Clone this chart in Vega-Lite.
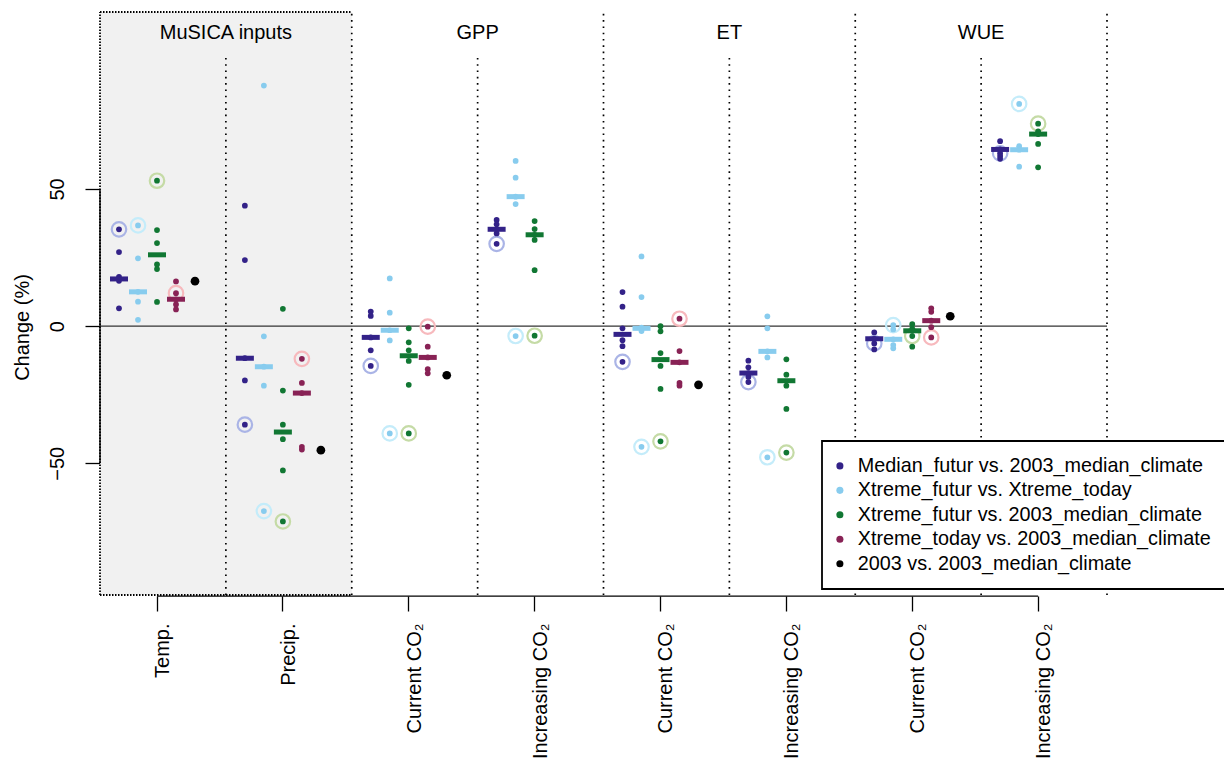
{
  "$schema": "https://vega.github.io/schema/vega-lite/v6.json",
  "width": 1007,
  "height": 583,
  "autosize": {"type": "none"},
  "padding": {"left": 100, "top": 12, "right": 117, "bottom": 170},
  "background": "white",
  "config": {
    "font": "Liberation Sans",
    "view": {"stroke": null},
    "legend": {"strokeWidth": 1.8},
    "axis": {"grid": false, "labelColor": "black", "titleColor": "black", "labelFont": "Liberation Sans", "titleFont": "Liberation Sans", "titleFontWeight": "normal"}
  },
  "datasets": {
    "pts": [
      {"c":"T","s":"A","v":35.3,"h":1},{"c":"T","s":"A","v":27.0,"h":0},{"c":"T","s":"A","v":18.0,"h":0},{"c":"T","s":"A","v":16.5,"h":0},{"c":"T","s":"A","v":6.5,"h":0},
      {"c":"T","s":"B","v":36.7,"h":1},{"c":"T","s":"B","v":24.7,"h":0},{"c":"T","s":"B","v":12.5,"h":0},{"c":"T","s":"B","v":8.9,"h":0},{"c":"T","s":"B","v":2.3,"h":0},
      {"c":"T","s":"C","v":53.0,"h":1},{"c":"T","s":"C","v":35.0,"h":0},{"c":"T","s":"C","v":30.3,"h":0},{"c":"T","s":"C","v":22.5,"h":0},{"c":"T","s":"C","v":20.8,"h":0},{"c":"T","s":"C","v":8.8,"h":0},
      {"c":"T","s":"D","v":16.3,"h":0},{"c":"T","s":"D","v":12.0,"h":1},{"c":"T","s":"D","v":9.8,"h":0},{"c":"T","s":"D","v":7.9,"h":0},{"c":"T","s":"D","v":6.1,"h":0},
      {"c":"T","s":"E","v":16.4,"h":0},
      {"c":"P","s":"A","v":43.9,"h":0},{"c":"P","s":"A","v":24.1,"h":0},{"c":"P","s":"A","v":-11.7,"h":0},{"c":"P","s":"A","v":-19.8,"h":0},{"c":"P","s":"A","v":-35.9,"h":1},
      {"c":"P","s":"B","v":87.7,"h":0},{"c":"P","s":"B","v":-3.7,"h":0},{"c":"P","s":"B","v":-14.8,"h":0},{"c":"P","s":"B","v":-21.7,"h":0},{"c":"P","s":"B","v":-67.4,"h":1},
      {"c":"P","s":"C","v":6.3,"h":0},{"c":"P","s":"C","v":-23.5,"h":0},{"c":"P","s":"C","v":-35.9,"h":0},{"c":"P","s":"C","v":-41.2,"h":0},{"c":"P","s":"C","v":-52.6,"h":0},{"c":"P","s":"C","v":-71.2,"h":1},
      {"c":"P","s":"D","v":-11.9,"h":1},{"c":"P","s":"D","v":-20.7,"h":0},{"c":"P","s":"D","v":-24.4,"h":0},{"c":"P","s":"D","v":-44.0,"h":0},{"c":"P","s":"D","v":-45.0,"h":0},
      {"c":"P","s":"E","v":-45.2,"h":0},
      {"c":"Gc","s":"A","v":5.3,"h":0},{"c":"Gc","s":"A","v":3.7,"h":0},{"c":"Gc","s":"A","v":-4.1,"h":0},{"c":"Gc","s":"A","v":-8.8,"h":0},{"c":"Gc","s":"A","v":-14.5,"h":1},
      {"c":"Gc","s":"B","v":17.4,"h":0},{"c":"Gc","s":"B","v":4.9,"h":0},{"c":"Gc","s":"B","v":-1.5,"h":0},{"c":"Gc","s":"B","v":-5.2,"h":0},{"c":"Gc","s":"B","v":-39.1,"h":1},
      {"c":"Gc","s":"C","v":-0.8,"h":0},{"c":"Gc","s":"C","v":-5.9,"h":0},{"c":"Gc","s":"C","v":-8.8,"h":0},{"c":"Gc","s":"C","v":-12.7,"h":0},{"c":"Gc","s":"C","v":-21.4,"h":0},{"c":"Gc","s":"C","v":-39.1,"h":1},
      {"c":"Gc","s":"D","v":-0.2,"h":1},{"c":"Gc","s":"D","v":-7.5,"h":0},{"c":"Gc","s":"D","v":-11.4,"h":0},{"c":"Gc","s":"D","v":-15.7,"h":0},{"c":"Gc","s":"D","v":-17.2,"h":0},
      {"c":"Gc","s":"E","v":-17.9,"h":0},
      {"c":"Gi","s":"A","v":38.7,"h":0},{"c":"Gi","s":"A","v":37.1,"h":0},{"c":"Gi","s":"A","v":35.3,"h":0},{"c":"Gi","s":"A","v":33.8,"h":0},{"c":"Gi","s":"A","v":30.0,"h":1},
      {"c":"Gi","s":"B","v":60.2,"h":0},{"c":"Gi","s":"B","v":54.1,"h":0},{"c":"Gi","s":"B","v":47.2,"h":0},{"c":"Gi","s":"B","v":44.5,"h":0},{"c":"Gi","s":"B","v":-3.6,"h":1},
      {"c":"Gi","s":"C","v":38.3,"h":0},{"c":"Gi","s":"C","v":35.4,"h":0},{"c":"Gi","s":"C","v":33.3,"h":0},{"c":"Gi","s":"C","v":31.4,"h":0},{"c":"Gi","s":"C","v":20.4,"h":0},{"c":"Gi","s":"C","v":-3.5,"h":1},
      {"c":"Ec","s":"A","v":12.4,"h":0},{"c":"Ec","s":"A","v":7.1,"h":0},{"c":"Ec","s":"A","v":-0.8,"h":0},{"c":"Ec","s":"A","v":-5.1,"h":0},{"c":"Ec","s":"A","v":-7.3,"h":0},{"c":"Ec","s":"A","v":-13.0,"h":1},
      {"c":"Ec","s":"B","v":25.4,"h":0},{"c":"Ec","s":"B","v":10.6,"h":0},{"c":"Ec","s":"B","v":-0.5,"h":0},{"c":"Ec","s":"B","v":-1.8,"h":0},{"c":"Ec","s":"B","v":-44.0,"h":1},
      {"c":"Ec","s":"C","v":0.0,"h":0},{"c":"Ec","s":"C","v":-1.9,"h":0},{"c":"Ec","s":"C","v":-9.8,"h":0},{"c":"Ec","s":"C","v":-14.5,"h":0},{"c":"Ec","s":"C","v":-22.9,"h":0},{"c":"Ec","s":"C","v":-42.0,"h":1},
      {"c":"Ec","s":"D","v":2.7,"h":1},{"c":"Ec","s":"D","v":-9.1,"h":0},{"c":"Ec","s":"D","v":-13.2,"h":0},{"c":"Ec","s":"D","v":-20.7,"h":0},{"c":"Ec","s":"D","v":-21.7,"h":0},
      {"c":"Ec","s":"E","v":-21.4,"h":0},
      {"c":"Ei","s":"A","v":-12.6,"h":0},{"c":"Ei","s":"A","v":-15.0,"h":0},{"c":"Ei","s":"A","v":-17.1,"h":0},{"c":"Ei","s":"A","v":-18.5,"h":0},{"c":"Ei","s":"A","v":-20.4,"h":1},
      {"c":"Ei","s":"B","v":3.6,"h":0},{"c":"Ei","s":"B","v":-0.8,"h":0},{"c":"Ei","s":"B","v":-9.2,"h":0},{"c":"Ei","s":"B","v":-11.4,"h":0},{"c":"Ei","s":"B","v":-47.8,"h":1},
      {"c":"Ei","s":"C","v":-12.1,"h":0},{"c":"Ei","s":"C","v":-17.7,"h":0},{"c":"Ei","s":"C","v":-21.7,"h":0},{"c":"Ei","s":"C","v":-30.2,"h":0},{"c":"Ei","s":"C","v":-46.1,"h":1},
      {"c":"Wc","s":"A","v":-2.3,"h":0},{"c":"Wc","s":"A","v":-4.6,"h":0},{"c":"Wc","s":"A","v":-6.3,"h":1},{"c":"Wc","s":"A","v":-8.5,"h":0},
      {"c":"Wc","s":"B","v":0.4,"h":1},{"c":"Wc","s":"B","v":-1.2,"h":0},{"c":"Wc","s":"B","v":-4.8,"h":0},{"c":"Wc","s":"B","v":-6.9,"h":0},{"c":"Wc","s":"B","v":-8.1,"h":0},
      {"c":"Wc","s":"C","v":0.7,"h":0},{"c":"Wc","s":"C","v":-1.0,"h":0},{"c":"Wc","s":"C","v":-1.7,"h":0},{"c":"Wc","s":"C","v":-3.6,"h":1},{"c":"Wc","s":"C","v":-7.5,"h":0},
      {"c":"Wc","s":"D","v":6.5,"h":0},{"c":"Wc","s":"D","v":5.2,"h":0},{"c":"Wc","s":"D","v":2.0,"h":0},{"c":"Wc","s":"D","v":-0.4,"h":0},{"c":"Wc","s":"D","v":-4.1,"h":1},
      {"c":"Wc","s":"E","v":3.6,"h":0},
      {"c":"Wi","s":"A","v":67.4,"h":0},{"c":"Wi","s":"A","v":64.4,"h":0},{"c":"Wi","s":"A","v":63.0,"h":1},{"c":"Wi","s":"A","v":62.0,"h":0},{"c":"Wi","s":"A","v":61.0,"h":0},
      {"c":"Wi","s":"B","v":81.0,"h":1},{"c":"Wi","s":"B","v":65.6,"h":0},{"c":"Wi","s":"B","v":64.3,"h":0},{"c":"Wi","s":"B","v":58.1,"h":0},
      {"c":"Wi","s":"C","v":73.8,"h":1},{"c":"Wi","s":"C","v":71.0,"h":0},{"c":"Wi","s":"C","v":70.0,"h":0},{"c":"Wi","s":"C","v":66.4,"h":0},{"c":"Wi","s":"C","v":57.9,"h":0}
    ],
    "med": [
      {"c":"T","s":"A","v":17.2},{"c":"T","s":"B","v":12.5},{"c":"T","s":"C","v":26.0},{"c":"T","s":"D","v":9.8},
      {"c":"P","s":"A","v":-11.7},{"c":"P","s":"B","v":-14.8},{"c":"P","s":"C","v":-38.6},{"c":"P","s":"D","v":-24.4},
      {"c":"Gc","s":"A","v":-4.1},{"c":"Gc","s":"B","v":-1.5},{"c":"Gc","s":"C","v":-10.8},{"c":"Gc","s":"D","v":-11.4},
      {"c":"Gi","s":"A","v":35.3},{"c":"Gi","s":"B","v":47.2},{"c":"Gi","s":"C","v":33.3},
      {"c":"Ec","s":"A","v":-3.0},{"c":"Ec","s":"B","v":-0.8},{"c":"Ec","s":"C","v":-12.2},{"c":"Ec","s":"D","v":-13.2},
      {"c":"Ei","s":"A","v":-17.1},{"c":"Ei","s":"B","v":-9.2},{"c":"Ei","s":"C","v":-19.9},
      {"c":"Wc","s":"A","v":-4.6},{"c":"Wc","s":"B","v":-4.8},{"c":"Wc","s":"C","v":-1.7},{"c":"Wc","s":"D","v":2.0},
      {"c":"Wi","s":"A","v":64.4},{"c":"Wi","s":"B","v":64.3},{"c":"Wi","s":"C","v":70.0}
    ]
  },
  "layer": [
    {
      "data": {"values": [{"c":"T","c2":"P"}]},
      "mark": {"type": "rect", "color": "#f1f1f1"},
      "encoding": {
        "x": {"field": "c", "type": "nominal", "title": null, "bandPosition": 0,
              "scale": {"domain": ["T","P","Gc","Gi","Ec","Ei","Wc","Wi"], "paddingInner": 0, "paddingOuter": 0},
              "axis": {"domain": false, "bandPosition": 0.453, "tickSize": 15, "tickWidth": 1.3, "tickColor": "black", "offset": 1,
                       "labelAngle": 270, "labelAlign": "right", "labelBaseline": "middle", "labelFontSize": 20, "labelPadding": 12,
                       "labelExpr": "{'T':'Temp.','P':'Precip.','Gc':'Current CO₂','Gi':'Increasing CO₂','Ec':'Current CO₂','Ei':'Increasing CO₂','Wc':'Current CO₂','Wi':'Increasing CO₂'}[datum.value]"}},
        "x2": {"field": "c2", "bandPosition": 1},
        "y": {"datum": -98, "type": "quantitative", "title": "Change (%)",
              "scale": {"domain": [-98, 114.5], "nice": false, "zero": false},
              "axis": {"values": [-50, 0, 50], "domain": false, "tickSize": 15, "tickWidth": 1.3, "tickColor": "black",
                       "labelAngle": 270, "labelAlign": "center", "labelBaseline": "bottom", "labelFontSize": 20, "labelPadding": 18,
                       "labelExpr": "datum.value < 0 ? '−' + abs(datum.value) : datum.label",
                       "titleFontSize": 20, "titleAngle": 270, "titleX": -78, "titleY": 315, "titleAlign": "center", "titleBaseline": "middle"}},
        "y2": {"datum": 114.5}
      }
    },
    {
      "data": {"values": [{"c":"T"}]},
      "mark": {"type": "rule", "color": "black", "strokeWidth": 1.8, "strokeDash": [1.5, 1.5]},
      "encoding": {
        "x": {"field": "c", "type": "nominal", "bandPosition": 0},
        "y": {"datum": -98, "type": "quantitative", "title": "Change (%)"},
        "y2": {"datum": 114.5}
      }
    },
    {
      "data": {"values": [{"c":"T","c2":"P"}]},
      "mark": {"type": "rule", "color": "black", "strokeWidth": 1.8, "strokeDash": [1.5, 1.5]},
      "encoding": {
        "x": {"field": "c", "type": "nominal", "bandPosition": 0},
        "x2": {"field": "c2", "bandPosition": 1},
        "y": {"datum": 114.5, "type": "quantitative", "title": "Change (%)"}
      }
    },
    {
      "data": {"values": [{"c":"T","c2":"P"}]},
      "mark": {"type": "rule", "color": "black", "strokeWidth": 1.8, "strokeDash": [1.5, 1.5]},
      "encoding": {
        "x": {"field": "c", "type": "nominal", "bandPosition": 0},
        "x2": {"field": "c2", "bandPosition": 1},
        "y": {"datum": -98, "type": "quantitative", "title": "Change (%)"}
      }
    },
    {
      "data": {"values": [{"c":"P"},{"c":"Gi"},{"c":"Ei"},{"c":"Wi"}]},
      "mark": {"type": "rule", "color": "black", "strokeWidth": 1.7, "strokeDash": [1.6, 4.7]},
      "encoding": {
        "x": {"field": "c", "type": "nominal", "bandPosition": 1},
        "y": {"datum": -98, "type": "quantitative", "title": "Change (%)"},
        "y2": {"datum": 114.5}
      }
    },
    {
      "data": {"values": [{"c":"T"},{"c":"Gc"},{"c":"Ec"},{"c":"Wc"}]},
      "mark": {"type": "rule", "color": "black", "strokeWidth": 1.7, "strokeDash": [1.6, 4.7]},
      "encoding": {
        "x": {"field": "c", "type": "nominal", "bandPosition": 1},
        "y": {"datum": -98, "type": "quantitative", "title": "Change (%)"},
        "y2": {"datum": 97.7}
      }
    },
    {
      "data": {"values": [{"c":"T","c2":"Wi"}]},
      "mark": {"type": "rule", "color": "#333333", "strokeWidth": 1.2},
      "encoding": {
        "x": {"field": "c", "type": "nominal", "bandPosition": 0},
        "x2": {"field": "c2", "bandPosition": 1},
        "y": {"datum": 0, "type": "quantitative", "title": "Change (%)"}
      }
    },
    {
      "data": {"name": "pts"},
      "transform": [{"filter": "datum.h == 1"}],
      "mark": {"type": "point", "filled": false, "size": 210, "strokeWidth": 2.2, "opacity": 1},
      "encoding": {
        "x": {"field": "c", "type": "nominal"},
        "xOffset": {"field": "s", "type": "nominal", "scale": {"type": "point", "domain": ["A","B","C","D","E"], "range": [19, 95], "padding": 0}},
        "y": {"field": "v", "type": "quantitative", "title": "Change (%)"},
        "stroke": {"field": "s", "type": "nominal", "legend": null,
                   "scale": {"domain": ["A","B","C","D"], "range": ["#aab4e6", "#c4ecfa", "#c5dba6", "#f7b9bd"]}}
      }
    },
    {
      "data": {"name": "pts"},
      "transform": [{"filter": "datum.s != 'E'"}],
      "mark": {"type": "point", "filled": true, "size": 33, "opacity": 1, "shape": "circle"},
      "encoding": {
        "x": {"field": "c", "type": "nominal"},
        "xOffset": {"field": "s", "type": "nominal"},
        "y": {"field": "v", "type": "quantitative", "title": "Change (%)"},
        "color": {"field": "s", "type": "nominal",
                  "scale": {"domain": ["A","B","C","D","E"], "range": ["#332288", "#88ccee", "#117733", "#882255", "#000000"]},
                  "legend": {"orient": "none", "legendX": 722, "legendY": 429, "title": null,
                             "strokeColor": "black", "fillColor": "white", "padding": 15,
                             "symbolType": "circle", "symbolSize": 50, "symbolStrokeWidth": 0, "symbolOffset": -7,
                             "labelFontSize": 19.8, "labelFont": "Liberation Sans", "labelColor": "black", "labelLimit": 600,
                             "labelOffset": 8, "rowPadding": 3.45,
                             "labelExpr": "{'A':'Median_futur vs. 2003_median_climate','B':'Xtreme_futur vs. Xtreme_today','C':'Xtreme_futur vs. 2003_median_climate','D':'Xtreme_today vs. 2003_median_climate','E':'2003 vs. 2003_median_climate'}[datum.value]"}}
      }
    },
    {
      "data": {"name": "pts"},
      "transform": [{"filter": "datum.s == 'E'"}],
      "mark": {"type": "point", "filled": true, "size": 76, "opacity": 1, "shape": "circle"},
      "encoding": {
        "x": {"field": "c", "type": "nominal"},
        "xOffset": {"field": "s", "type": "nominal"},
        "y": {"field": "v", "type": "quantitative", "title": "Change (%)"},
        "color": {"field": "s", "type": "nominal"}
      }
    },
    {
      "data": {"name": "med"},
      "mark": {"type": "tick", "orient": "horizontal", "size": 18, "thickness": 5, "opacity": 1},
      "encoding": {
        "x": {"field": "c", "type": "nominal"},
        "xOffset": {"field": "s", "type": "nominal"},
        "y": {"field": "v", "type": "quantitative", "title": "Change (%)"},
        "color": {"field": "s", "type": "nominal"}
      }
    },
    {
      "data": {"values": [{"c":"T","t":"MuSICA inputs"},{"c":"Gc","t":"GPP"},{"c":"Ec","t":"ET"},{"c":"Wc","t":"WUE"}]},
      "mark": {"type": "text", "fontSize": 20, "font": "Liberation Sans", "color": "black", "align": "center", "baseline": "middle"},
      "encoding": {
        "x": {"field": "c", "type": "nominal", "bandPosition": 1},
        "y": {"datum": 106.8, "type": "quantitative", "title": "Change (%)"},
        "text": {"field": "t"}
      }
    },
    {
      "data": {"values": [{"c":"T"}]},
      "mark": {"type": "rule", "color": "black", "strokeWidth": 1.4},
      "encoding": {
        "x": {"field": "c", "type": "nominal", "bandPosition": 0},
        "y": {"datum": -50, "type": "quantitative", "title": "Change (%)"},
        "y2": {"datum": 50}
      }
    },
    {
      "data": {"values": [{"c":"T","c2":"Wi"}]},
      "mark": {"type": "rule", "color": "black", "strokeWidth": 1.4},
      "encoding": {
        "x": {"field": "c", "type": "nominal", "bandPosition": 0.453},
        "x2": {"field": "c2", "bandPosition": 0.453},
        "y": {"datum": -98.4, "type": "quantitative", "title": "Change (%)"}
      }
    }
  ]
}
